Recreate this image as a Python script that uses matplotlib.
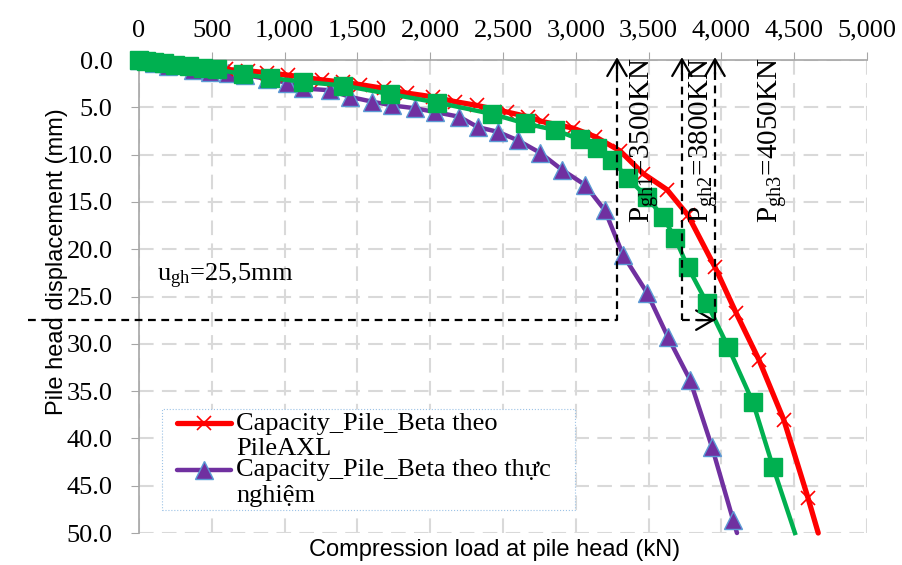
import numpy as np
import matplotlib
matplotlib.use('Agg')
import matplotlib.pyplot as plt
from matplotlib.ticker import FuncFormatter, MultipleLocator
from matplotlib.legend_handler import HandlerLine2D

plt.rcParams['font.family'] = ['Liberation Serif', 'DejaVu Serif']
plt.rcParams['mathtext.fontset'] = 'custom'
plt.rcParams['mathtext.rm'] = 'Liberation Serif'
plt.rcParams['mathtext.it'] = 'Liberation Serif:italic'

# du lieu doc tu hinh (tai kN, chuyen vi mm)
red_load = [0, 150, 300, 450, 600, 750, 880, 1025, 1257, 1400, 1518, 1680, 1840, 2019, 2170,
            2321, 2527, 2672, 2768, 2981, 3132, 3303, 3462, 3626, 3770, 3956, 4100, 4258,
            4430, 4595, 4665]
red_disp = [0, 0.25, 0.5, 0.75, 1.0, 1.15, 1.35, 1.6, 2.1, 2.35, 2.6, 3.0, 3.5, 3.9, 4.4,
            4.8, 5.5, 6.0, 6.5, 7.2, 8.1, 9.6, 12.0, 13.7, 16.4, 21.9, 26.7, 31.7,
            38.1, 46.3, 50.0]

green_load = [0, 50, 100, 170, 250, 340, 440, 536, 714, 900, 1127, 1401, 1724, 2050, 2424,
              2651, 2857, 3029, 3146, 3249, 3358, 3489, 3599, 3681, 3770, 3901, 4045, 4217,
              4354, 4505]
green_disp = [0, 0.1, 0.2, 0.35, 0.5, 0.65, 0.85, 1.0, 1.5, 1.9, 2.3, 2.7, 3.6, 4.5, 5.7,
              6.7, 7.4, 8.4, 9.3, 10.6, 12.5, 14.5, 16.6, 18.8, 21.9, 25.7, 30.3, 36.2,
              43.0, 50.0]

purple_load = [0, 100, 200, 371, 490, 610, 730, 877, 1018, 1126, 1312, 1449, 1600, 1738,
               1896, 2033, 2200, 2328, 2466, 2603, 2754, 2905, 3063, 3200, 3324, 3489, 3633,
               3784, 3935, 4080, 4107]
purple_disp = [0, 0.3, 0.6, 1.05, 1.25, 1.4, 1.6, 2.0, 2.4, 3.0, 3.2, 3.9, 4.4, 4.8,
               5.1, 5.5, 6.0, 7.1, 7.6, 8.5, 9.8, 11.6, 13.2, 15.9, 20.6, 24.6, 29.3,
               33.8, 40.9, 48.6, 50.0]

P_gh = [3500, 3800, 4050]
u_gh = 27.5   # vi tri duong ngang (mm)
arrow_x = [3283, 3729, 3956]


class FirstLineHandler(HandlerLine2D):
    # ky hieu chu giai dat o dong dau, lui vao ben phai
    def get_xdata(self, legend, xdescent, ydescent, width, height, fontsize):
        x0 = -xdescent + 0.17 * width
        x1 = -xdescent + width
        return np.array([x0, x1]), np.array([(x0 + x1) / 2])

    def create_artists(self, legend, orig_handle, xdescent, ydescent, width, height,
                       fontsize, trans):
        return super().create_artists(legend, orig_handle, xdescent, ydescent - 0.95 * fontsize,
                                      width, height, fontsize, trans)


fig = plt.figure(figsize=(9.02, 5.65), dpi=100)
ax = fig.add_axes([139/902, 1-533/565, 728/902, 473/565])

l1, = ax.plot(red_load, red_disp, color='#FF0000', lw=3.8, marker='x', ms=10, mew=1.2,
              markevery=slice(0, -1), clip_on=False, zorder=3, solid_capstyle='round',
              label='Capacity_Pile_Beta theo   \nPileAXL')
ax.plot(green_load, green_disp, color='#00B050', lw=3.2, marker='s', ms=13,
        markevery=slice(0, -1), clip_on=False, zorder=4)
l3, = ax.plot(purple_load, purple_disp, color='#7030A0', lw=3.2, marker='^', ms=13,
              mec='#5B9BD5', mew=1, markevery=slice(0, -1), clip_on=False, zorder=2,
              solid_capstyle='round', label='Capacity_Pile_Beta theo thực   \nnghiệm')

ax.set_xlim(0, 5000)
ax.set_ylim(50, 0)
ax.xaxis.set_major_locator(MultipleLocator(500))
ax.yaxis.set_major_locator(MultipleLocator(5))
ax.xaxis.set_major_formatter(FuncFormatter(lambda v, p: f'{int(v):,}'))
ax.yaxis.set_major_formatter(FuncFormatter(lambda v, p: f'{v:.1f}'))
ax.xaxis.tick_top()
ax.tick_params(axis='x', labelsize=19, length=6, color='#a6a6a6', pad=7)
ax.tick_params(axis='y', labelsize=19, length=6, color='#a6a6a6', pad=13)
ax.grid(True, color='#d9d9d9', lw=1.5, ls=(0, (7, 4)))
for s in ['right', 'bottom']:
    ax.spines[s].set_visible(False)
for s in ['left', 'top']:
    ax.spines[s].set_color('#a6a6a6')
    ax.spines[s].set_linewidth(1.2)

ax.set_ylabel('Pile head displacement (mm)', family='Liberation Sans', fontsize=17)
ax.yaxis.set_label_coords(-0.097, 0.573)
fig.text(495/902, 1-550/565, 'Compression load at pile head (kN)', family='Liberation Sans',
         fontsize=17, ha='center', va='center')

# duong net dut va mui ten
dash = dict(color='black', lw=1.6, ls=(0, (3.5, 2.5)), clip_on=False, zorder=5)
aprops = dict(arrowstyle='->,head_length=0.6,head_width=0.35', color='black', lw=1.6,
              mutation_scale=20, shrinkA=0, shrinkB=0)
ax.plot([-762, arrow_x[0], arrow_x[0]], [u_gh, u_gh, 0], **dash)
ax.plot([arrow_x[1], arrow_x[1]], [0, u_gh], **dash)
ax.plot([arrow_x[1], arrow_x[2]], [u_gh, u_gh], **dash)
ax.plot([arrow_x[2], arrow_x[2]], [u_gh, 0], **dash)
for xa in arrow_x:
    ax.annotate('', xy=(xa, -0.3), xytext=(xa, 1.5), arrowprops=aprops, annotation_clip=False)
ax.annotate('', xy=(arrow_x[2], u_gh), xytext=(arrow_x[2] - 120, u_gh), arrowprops=aprops,
            annotation_clip=False)

ax.text(124, 23.4, r'u$_{\mathrm{gh}}$=25,5mm', fontsize=19, va='baseline')
text_x = [3475, 3874, 4354]
for i, (tx, p) in enumerate(zip(text_x, P_gh)):
    ax.text(tx, -0.3, r'P$_{\mathrm{gh%d}}$=%dKN' % (i + 1, p), fontsize=21, rotation=90,
            ha='center', va='top', zorder=6)

leg = ax.legend(handles=[l1, l3], loc='upper left', bbox_to_anchor=(0.032, 0.262),
                borderaxespad=0, handlelength=2.46, handletextpad=0.2,
                labelspacing=-0.05, borderpad=0.15, fancybox=False, framealpha=1,
                handler_map={l1: FirstLineHandler(), l3: FirstLineHandler()},
                prop={'family': ['Liberation Serif', 'DejaVu Serif'], 'size': 19})
leg.get_frame().set_edgecolor('#9DC3E6')
leg.get_frame().set_linestyle(':')
leg.get_frame().set_linewidth(0.8)

fig.savefig('out.png', dpi=100)
